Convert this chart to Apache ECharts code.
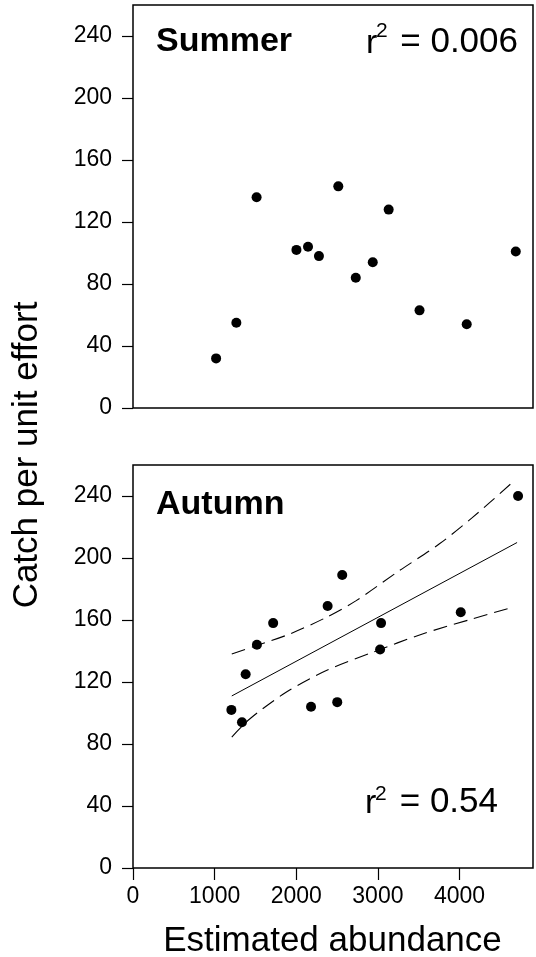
<!DOCTYPE html>
<html>
<head>
<meta charset="utf-8">
<script src="https://cdn.jsdelivr.net/npm/echarts@6/dist/echarts.min.js"></script>
<style>
  html, body { margin: 0; padding: 0; background: #fff; }
  #chart { width: 536px; height: 957px; }
</style>
</head>
<body>
<div id="chart"></div>
<script>
var summerX = [1018, 1266, 1514, 2002, 2144, 2278, 2515, 2729, 2937, 3132, 3510, 4088, 4689]
var summerY = [32, 55, 136, 102, 104, 98, 143, 84, 94, 128, 63, 54, 101]
var autumnX = [1205, 1335, 1380, 1518, 1717, 2181, 2384, 2502, 2563, 3039, 3027, 4015, 4717]
var autumnY = [102, 94, 125, 144, 158, 104, 169, 107, 189, 158, 141, 165, 240]
var fitX = [1210, 4705]
var fitY = [111, 210]
var upperX = [1210, 1515, 1921, 2368, 2734, 3262, 3750, 4156, 4644]
var upperY = [138, 143.5, 151, 161.7, 172.5, 191.8, 209, 226, 248.6]
var lowerX = [1210, 1433, 1880, 2368, 2937, 3546, 4156, 4644]
var lowerY = [84.5, 96.3, 113.5, 127.4, 139.2, 151, 160.7, 168.1]
var xTicks = [0, 1000, 2000, 3000, 4000]
var yTicks = [0, 40, 80, 120, 160, 200, 240]

var FONT = '"Liberation Sans", Arial, sans-serif'

function pairs (xs, ys) {
  return xs.map(function (x, i) { return [x, ys[i]] })
}

function plain (v) {
  return String(v)
}

function yAxisFor (gridIndex) {
  return {
    gridIndex: gridIndex,
    type: 'value',
    min: 0,
    max: 260,
    interval: 40,
    splitLine: { show: false },
    axisLine: { show: false },
    axisTick: { show: true, length: 11, customValues: yTicks, lineStyle: { color: '#000', width: 1.2 } },
    axisLabel: { customValues: yTicks, formatter: plain, margin: 21, color: '#000', fontSize: 23, fontFamily: FONT }
  }
}

function xAxisFor (gridIndex, withLabels) {
  return {
    gridIndex: gridIndex,
    type: 'value',
    min: 0,
    max: 4900,
    interval: 1000,
    splitLine: { show: false },
    axisLine: { show: false },
    axisTick: { show: withLabels, length: 12, customValues: xTicks, lineStyle: { color: '#000', width: 1.2 } },
    axisLabel: { show: withLabels, customValues: xTicks, formatter: plain, margin: 17, color: '#000', fontSize: 23, fontFamily: FONT }
  }
}

function txt (text, x, y, size, opts) {
  opts = opts || {}
  return {
    type: 'text',
    x: x,
    y: y,
    rotation: opts.rotation || 0,
    style: {
      text: text,
      fill: '#000',
      font: (opts.bold ? 'bold ' : '') + size + 'px ' + FONT,
      align: opts.align || 'left',
      verticalAlign: 'middle'
    }
  }
}

var chart = echarts.init(document.getElementById('chart'))
chart.setOption({
  animation: false,
  backgroundColor: '#fff',
  grid: [
    { left: 133, top: 5, width: 400, height: 403, show: true, borderColor: '#000', borderWidth: 1.5 },
    { left: 133, top: 465, width: 400, height: 403, show: true, borderColor: '#000', borderWidth: 1.5 }
  ],
  xAxis: [xAxisFor(0, false), xAxisFor(1, true)],
  yAxis: [yAxisFor(0), yAxisFor(1)],
  series: [
    {
      name: 'Summer',
      type: 'scatter',
      xAxisIndex: 0,
      yAxisIndex: 0,
      symbolSize: 10,
      itemStyle: { color: '#000', opacity: 1 },
      data: pairs(summerX, summerY)
    },
    {
      name: 'Autumn',
      type: 'scatter',
      xAxisIndex: 1,
      yAxisIndex: 1,
      symbolSize: 10,
      itemStyle: { color: '#000', opacity: 1 },
      data: pairs(autumnX, autumnY)
    },
    {
      name: 'fit',
      type: 'line',
      xAxisIndex: 1,
      yAxisIndex: 1,
      showSymbol: false,
      lineStyle: { color: '#000', width: 1 },
      data: pairs(fitX, fitY)
    },
    {
      name: 'upper',
      type: 'line',
      xAxisIndex: 1,
      yAxisIndex: 1,
      showSymbol: false,
      smooth: 0.3,
      lineStyle: { color: '#000', width: 1.1, type: [14, 7] },
      data: pairs(upperX, upperY)
    },
    {
      name: 'lower',
      type: 'line',
      xAxisIndex: 1,
      yAxisIndex: 1,
      showSymbol: false,
      smooth: 0.3,
      lineStyle: { color: '#000', width: 1.1, type: [14, 7] },
      data: pairs(lowerX, lowerY)
    }
  ],
  graphic: [
    txt('Summer', 156, 42, 34, { bold: true }),
    txt('r', 366, 44, 34),
    txt('2', 376, 31, 21),
    txt('= 0.006', 518, 42, 35, { align: 'right' }),
    txt('Autumn', 156, 505, 34, { bold: true }),
    txt('r', 365, 804, 34),
    txt('2', 375, 794, 21),
    txt('= 0.54', 498, 802, 35, { align: 'right' }),
    txt('Catch per unit effort', 27, 455, 35, { align: 'center', rotation: Math.PI / 2 }),
    txt('Estimated abundance', 332.5, 941, 35, { align: 'center' })
  ]
})
</script>
</body>
</html>
